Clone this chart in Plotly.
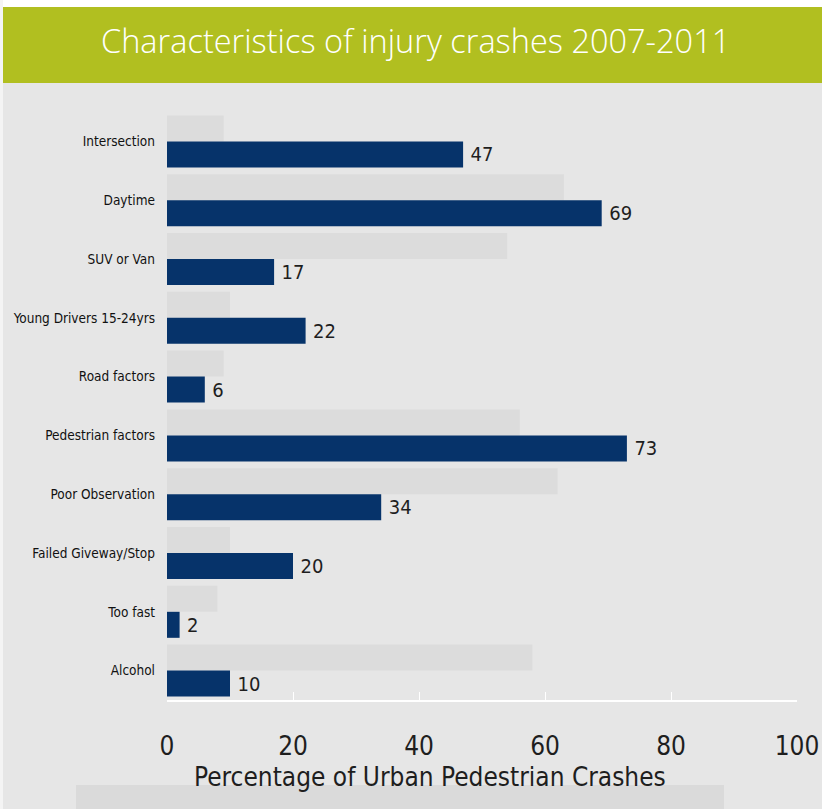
import plotly.graph_objects as go

categories = ["Intersection", "Daytime", "SUV or Van", "Young Drivers 15-24yrs", "Road factors",
              "Pedestrian factors", "Poor Observation", "Failed Giveway/Stop", "Too fast", "Alcohol"]
urban_values = [47, 69, 17, 22, 6, 73, 34, 20, 2, 10]
ghost_values = [9, 63, 54, 10, 9, 56, 62, 10, 8, 58]
x_ticks = [0, 20, 40, 60, 80, 100]

NARROW = "DejaVu Sans Condensed, Liberation Sans Narrow, sans-serif"
W, H = 822, 809
L, R, T, B = 167, 25, 112, 109

fig = go.Figure()
fig.add_trace(go.Bar(
    y=categories, x=ghost_values, orientation="h",
    marker=dict(color="#dcdcdc", line=dict(width=0)),
    hoverinfo="skip", showlegend=False,
))
fig.add_trace(go.Bar(
    y=categories, x=urban_values, orientation="h",
    marker=dict(color="#06336a", line=dict(width=0)),
    texttemplate="\u2005%{x}", textposition="outside",
    textfont=dict(family=NARROW, size=20, color="#1e1e1e"),
    cliponaxis=False, showlegend=False,
))

pw, ph = W - L - R, H - T - B
def px_x(x):
    return (x - L) / pw
def px_y(y):
    return (H - B - y) / ph

fig.update_layout(
    width=W, height=H,
    paper_bgcolor="#e6e6e6", plot_bgcolor="rgba(0,0,0,0)",
    margin=dict(l=L, r=R, t=T, b=B, autoexpand=False),
    barmode="group", bargap=0.115, bargroupgap=0,
    font=dict(family=NARROW, color="#1e1e1e"),
    xaxis=dict(
        range=[0, 100], tickvals=x_ticks, showgrid=False, zeroline=False,
        showline=True, linecolor="#ffffff", linewidth=2,
        ticks="inside", ticklen=8, tickwidth=1, tickcolor="#ffffff",
        tickfont=dict(family=NARROW, size=26, color="#1e1e1e"),
        ticklabelstandoff=22,
    ),
    yaxis=dict(
        categoryorder="array", categoryarray=categories, autorange="reversed",
        showgrid=False, zeroline=False, showline=False, ticks="",
        tickfont=dict(family=NARROW, size=13.5, color="#111111"),
        ticklabelstandoff=11,
    ),
    shapes=[
        dict(type="rect", xref="paper", yref="paper", x0=px_x(0), x1=px_x(W), y0=px_y(7), y1=px_y(0),
             fillcolor="#ffffff", line=dict(width=0), layer="below"),
        dict(type="rect", xref="paper", yref="paper", x0=px_x(3), x1=px_x(W), y0=px_y(83), y1=px_y(7),
             fillcolor="#b1bf20", line=dict(width=0), layer="below"),
        dict(type="rect", xref="paper", yref="paper", x0=px_x(0), x1=px_x(3), y0=px_y(H), y1=px_y(0),
             fillcolor="#f4f4f4", line=dict(width=0), layer="below"),
        dict(type="rect", xref="paper", yref="paper", x0=px_x(76), x1=px_x(724), y0=px_y(H), y1=px_y(785),
             fillcolor="#dadada", line=dict(width=0), layer="below"),
    ],
)

fig.add_annotation(
    text="Characteristics of injury crashes 2007-2011",
    xref="paper", yref="paper", x=px_x(415), y=px_y(41),
    xanchor="center", yanchor="middle", showarrow=False,
    font=dict(family="Open Sans", size=32.5, color="#ffffff", weight=300),
)
fig.add_annotation(
    text="Percentage of Urban Pedestrian Crashes",
    xref="paper", yref="paper", x=px_x(430), y=px_y(777),
    xanchor="center", yanchor="middle", showarrow=False,
    font=dict(family=NARROW, size=26, color="#1e1e1e"),
)

fig.write_html("out.html")
